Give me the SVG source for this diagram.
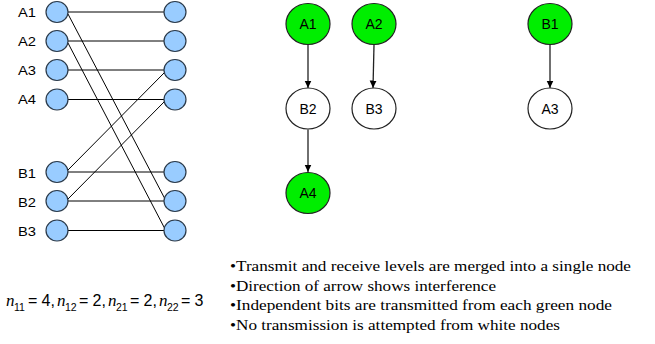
<svg xmlns="http://www.w3.org/2000/svg" width="655" height="344" viewBox="0 0 655 344">
  <style>
    .bg { fill: #ffffff; }
    .port { fill: #99ccff; stroke: #2b3a4a; stroke-width: 1.2; }
    .lbl { font-family: "Liberation Sans", Arial, sans-serif; font-size: 12.5px; fill: #000; }
    .node-g { fill: #00ee00; stroke: #222; stroke-width: 1.2; }
    .node-w { fill: #ffffff; stroke: #222; stroke-width: 1.2; }
    .nlbl { font-family: "Liberation Sans", Arial, sans-serif; font-size: 14px; fill: #000; text-anchor: middle; }
    .link { stroke: #000; stroke-width: 1; fill: none; }
    .arrow { stroke: #222; stroke-width: 1.3; fill: none; marker-end: url(#head); }
    .note { font-family: "Liberation Serif", "Times New Roman", serif; font-size: 14.5px; fill: #000; }
    .eq { font-family: "Liberation Sans", Arial, sans-serif; font-size: 16px; fill: #000; }
    .var { font-family: "Liberation Serif", "Times New Roman", serif; font-style: italic; font-size: 17px; }
    .sub { font-size: 10.5px; }
  </style>
  <defs>
    <marker id="head" markerWidth="8" markerHeight="8" refX="7.5" refY="3.5" orient="auto" markerUnits="userSpaceOnUse">
      <path d="M0,0 L7.5,3.5 L0,7 Z" fill="#000"/>
    </marker>
  </defs>
  <rect class="bg" x="0" y="0" width="655" height="344"/>

  <!-- bipartite channel: connectors -->
  <g id="channel-links">
    <line class="link" x1="68" y1="12" x2="164" y2="12"/>
    <line class="link" x1="68" y1="41" x2="164" y2="41"/>
    <line class="link" x1="68" y1="70" x2="164" y2="70"/>
    <line class="link" x1="68" y1="99.5" x2="164" y2="99.5"/>
    <line class="link" x1="68" y1="172" x2="164" y2="172"/>
    <line class="link" x1="68" y1="201" x2="164" y2="201"/>
    <line class="link" x1="68" y1="230.5" x2="164" y2="230.5"/>
    <line class="link" x1="68" y1="14" x2="165" y2="199"/>
    <line class="link" x1="68" y1="43" x2="165" y2="229"/>
    <line class="link" x1="68" y1="170" x2="165" y2="72"/>
    <line class="link" x1="68" y1="199" x2="165" y2="101"/>
  </g>

  <!-- transmit side -->
  <g id="tx-A1"><ellipse class="port" cx="57" cy="12" rx="11" ry="10.5"/><text class="lbl" x="18" y="16.5" textLength="18" lengthAdjust="spacingAndGlyphs">A1</text></g>
  <g id="tx-A2"><ellipse class="port" cx="57" cy="41" rx="11" ry="10.5"/><text class="lbl" x="18" y="45.5" textLength="18" lengthAdjust="spacingAndGlyphs">A2</text></g>
  <g id="tx-A3"><ellipse class="port" cx="57" cy="70" rx="11" ry="10.5"/><text class="lbl" x="18" y="74.5" textLength="18" lengthAdjust="spacingAndGlyphs">A3</text></g>
  <g id="tx-A4"><ellipse class="port" cx="57" cy="99.5" rx="11" ry="10.5"/><text class="lbl" x="18" y="104" textLength="18" lengthAdjust="spacingAndGlyphs">A4</text></g>
  <g id="tx-B1"><ellipse class="port" cx="57" cy="172" rx="11" ry="10.5"/><text class="lbl" x="18" y="177.5" textLength="18" lengthAdjust="spacingAndGlyphs">B1</text></g>
  <g id="tx-B2"><ellipse class="port" cx="57" cy="201" rx="11" ry="10.5"/><text class="lbl" x="18" y="206.5" textLength="18" lengthAdjust="spacingAndGlyphs">B2</text></g>
  <g id="tx-B3"><ellipse class="port" cx="57" cy="230.5" rx="11" ry="10.5"/><text class="lbl" x="18" y="236" textLength="18" lengthAdjust="spacingAndGlyphs">B3</text></g>

  <!-- receive side -->
  <g id="rx-A1"><ellipse class="port" cx="175" cy="12" rx="11" ry="10.5"/></g>
  <g id="rx-A2"><ellipse class="port" cx="175" cy="41" rx="11" ry="10.5"/></g>
  <g id="rx-A3"><ellipse class="port" cx="175" cy="70" rx="11" ry="10.5"/></g>
  <g id="rx-A4"><ellipse class="port" cx="175" cy="99.5" rx="11" ry="10.5"/></g>
  <g id="rx-B1"><ellipse class="port" cx="175" cy="172" rx="11" ry="10.5"/></g>
  <g id="rx-B2"><ellipse class="port" cx="175" cy="201" rx="11" ry="10.5"/></g>
  <g id="rx-B3"><ellipse class="port" cx="175" cy="230.5" rx="11" ry="10.5"/></g>

  <!-- interference graph: connectors -->
  <g id="interference-arrows">
    <line class="arrow" x1="308" y1="45" x2="308" y2="88"/>
    <line class="arrow" x1="308" y1="129.5" x2="308" y2="172"/>
    <line class="arrow" x1="374" y1="45" x2="373" y2="88"/>
    <line class="arrow" x1="550" y1="45" x2="550" y2="88"/>
  </g>

  <!-- interference graph: nodes -->
  <g id="g-A1"><ellipse class="node-g" cx="308" cy="24" rx="22" ry="20.5"/><text class="nlbl" x="308" y="29">A1</text></g>
  <g id="g-A2"><ellipse class="node-g" cx="374" cy="24" rx="22" ry="20.5"/><text class="nlbl" x="374" y="29">A2</text></g>
  <g id="g-B1"><ellipse class="node-g" cx="550" cy="24" rx="22" ry="20.5"/><text class="nlbl" x="550" y="29">B1</text></g>
  <g id="g-B2"><ellipse class="node-w" cx="308" cy="108.5" rx="22" ry="20.5"/><text class="nlbl" x="308" y="113.5">B2</text></g>
  <g id="g-B3"><ellipse class="node-w" cx="374" cy="108.5" rx="22" ry="20.5"/><text class="nlbl" x="374" y="113.5">B3</text></g>
  <g id="g-A3"><ellipse class="node-w" cx="550" cy="108.5" rx="22" ry="20.5"/><text class="nlbl" x="550" y="113.5">A3</text></g>
  <g id="g-A4"><ellipse class="node-g" cx="308" cy="193" rx="22" ry="20.5"/><text class="nlbl" x="308" y="198">A4</text></g>

  <!-- degrees of freedom -->
  <g id="dof" class="eq">
    <text x="6" y="305.5" class="var">n</text><text x="14" y="311" class="sub">11</text>
    <text x="28" y="305.5">=</text><text x="41.5" y="305.5">4,</text>
    <text x="57" y="305.5" class="var">n</text><text x="65" y="311" class="sub">12</text>
    <text x="79" y="305.5">=</text><text x="92.5" y="305.5">2,</text>
    <text x="108" y="305.5" class="var">n</text><text x="116" y="311" class="sub">21</text>
    <text x="130" y="305.5">=</text><text x="143.5" y="305.5">2,</text>
    <text x="159" y="305.5" class="var">n</text><text x="167" y="311" class="sub">22</text>
    <text x="181" y="305.5">=</text><text x="194.5" y="305.5">3</text>
  </g>

  <!-- notes -->
  <text class="note" x="230" y="271" textLength="401" lengthAdjust="spacingAndGlyphs">•Transmit and receive levels are merged into a single node</text>
  <text class="note" x="230" y="291" textLength="266" lengthAdjust="spacingAndGlyphs">•Direction of arrow shows interference</text>
  <text class="note" x="230" y="310" textLength="382" lengthAdjust="spacingAndGlyphs">•Independent bits are transmitted from each green node</text>
  <text class="note" x="230" y="330" textLength="330" lengthAdjust="spacingAndGlyphs">•No transmission is attempted from white nodes</text>
</svg>
